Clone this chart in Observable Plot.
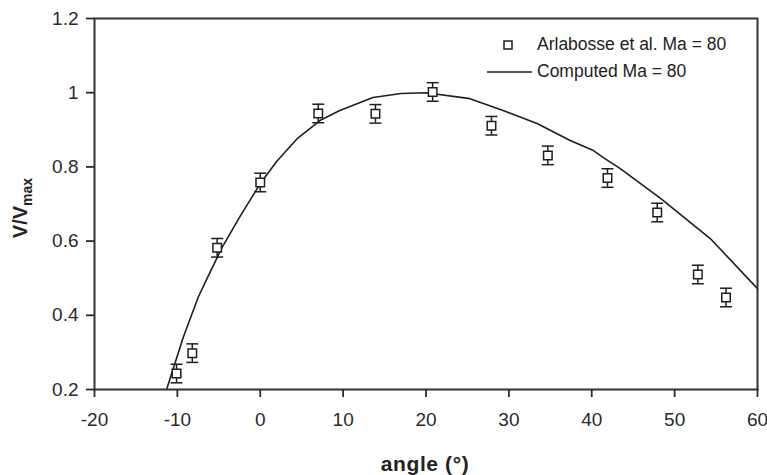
<!DOCTYPE html>
<html><head><meta charset="utf-8">
<script src="https://cdn.jsdelivr.net/npm/d3@7"></script>
<script src="https://cdn.jsdelivr.net/npm/@observablehq/plot@0.6"></script>
<style>
body{margin:0;background:#fff;}
#chart svg{font-family:"Liberation Sans",Arial,sans-serif;}
</style>
</head><body><div id="chart"></div>
<script>
// Measured points (Arlabosse et al., Ma = 80)
const angles = [-10.1, -8.2, -5.2, 0, 7, 13.9, 20.8, 27.9, 34.7, 41.9, 47.9, 52.8, 56.2];
const values = [0.243, 0.298, 0.582, 0.758, 0.944, 0.943, 1.002, 0.911, 0.831, 0.770, 0.677, 0.510, 0.448];
const errors = [0.025, 0.025, 0.025, 0.025, 0.025, 0.025, 0.025, 0.025, 0.025, 0.025, 0.025, 0.025, 0.025];
// Computed curve (Ma = 80)
const curveAngle = [-11.3, -10.3, -9.3, -7.5, -6.4, -4.6, -2.4, 0, 2, 4.5, 7.2, 9.6, 13.6, 17, 20, 25.3, 29.3, 33.4, 37.4, 40.2, 41.4, 43.4, 48.3, 54.3, 60];
const curveValue = [0.2, 0.27, 0.34, 0.448, 0.5, 0.583, 0.668, 0.755, 0.815, 0.877, 0.925, 0.952, 0.987, 0.998, 1.0, 0.984, 0.952, 0.917, 0.871, 0.844, 0.825, 0.796, 0.715, 0.607, 0.472];
const xTicks = [-20, -10, 0, 10, 20, 30, 40, 50, 60];
const yTicks = [0.2, 0.4, 0.6, 0.8, 1, 1.2];
const seriesLabels = ["Arlabosse et al. Ma = 80", "Computed Ma = 80"];
const xLabel = "angle (°)";
const yLabelMain = "V/V";
const yLabelSub = "max";

const points = angles.map((a, i) => ({angle: a, v: values[i], e: errors[i]}));
const curve = curveAngle.map((a, i) => ({angle: a, v: curveValue[i]}));

const capSymbol = {draw(ctx) { ctx.moveTo(-6, 0); ctx.lineTo(6, 0); }};
const ink = "#1e1e1e";

const chart = Plot.plot({
  width: 767, height: 475,
  marginLeft: 94, marginRight: 10, marginTop: 18, marginBottom: 86,
  x: {domain: [-20, 60]},
  y: {domain: [0.2, 1.2]},
  style: {fontSize: "19px", color: "#2a2a2a", background: "#fff"},
  marks: [
    Plot.line(curve, {x: "angle", y: "v", stroke: ink, strokeWidth: 1.6}),
    Plot.ruleX(points, {x: "angle", y1: d => d.v - d.e, y2: d => d.v + d.e, stroke: ink, strokeWidth: 1.5}),
    Plot.dot(points, {x: "angle", y: d => d.v - d.e, symbol: capSymbol, fill: "none", stroke: ink, strokeWidth: 1.5}),
    Plot.dot(points, {x: "angle", y: d => d.v + d.e, symbol: capSymbol, fill: "none", stroke: ink, strokeWidth: 1.5}),
    Plot.dot(points, {x: "angle", y: "v", symbol: "square", r: 4.8, fill: "white", stroke: ink, strokeWidth: 1.5}),
    Plot.frame({stroke: "#333", strokeWidth: 2}),
    Plot.axisX({ticks: xTicks, tickSize: 8, tickPadding: 15, tickFormat: d => String(d), label: null, strokeWidth: 1.8}),
    Plot.axisY({ticks: yTicks, tickSize: 8, tickPadding: 8, tickFormat: d => String(d), label: null, strokeWidth: 1.8})
  ]
});
document.getElementById("chart").appendChild(chart);

const svg = d3.select(chart);
// x axis title
svg.append("text")
  .attr("x", 425).attr("y", 465)
  .attr("text-anchor", "middle").attr("dominant-baseline", "middle")
  .attr("font-weight", "bold").attr("font-size", 21).attr("letter-spacing", 0.6)
  .attr("fill", "#222")
  .text(xLabel);
// y axis title with subscript
const yt = svg.append("text")
  .attr("transform", "translate(27,208) rotate(-90)")
  .attr("text-anchor", "middle")
  .attr("font-weight", "bold").attr("font-size", 20)
  .attr("fill", "#222");
yt.append("tspan").text(yLabelMain);
yt.append("tspan").attr("font-size", 14).attr("dy", 5).text(yLabelSub);

// legend
const lg = svg.append("g").attr("fill", "#222").attr("font-size", 17.5).attr("text-anchor", "start");
lg.append("rect").attr("x", 504).attr("y", 41).attr("width", 8).attr("height", 8)
  .attr("fill", "white").attr("stroke", ink).attr("stroke-width", 1.5);
lg.append("text").attr("x", 537).attr("y", 45).attr("text-anchor", "start").attr("dominant-baseline", "middle").text(seriesLabels[0]);
lg.append("line").attr("x1", 487).attr("x2", 532).attr("y1", 72).attr("y2", 72)
  .attr("stroke", ink).attr("stroke-width", 1.6);
lg.append("text").attr("x", 537).attr("y", 72).attr("text-anchor", "start").attr("dominant-baseline", "middle").text(seriesLabels[1]);
</script>
</body></html>
